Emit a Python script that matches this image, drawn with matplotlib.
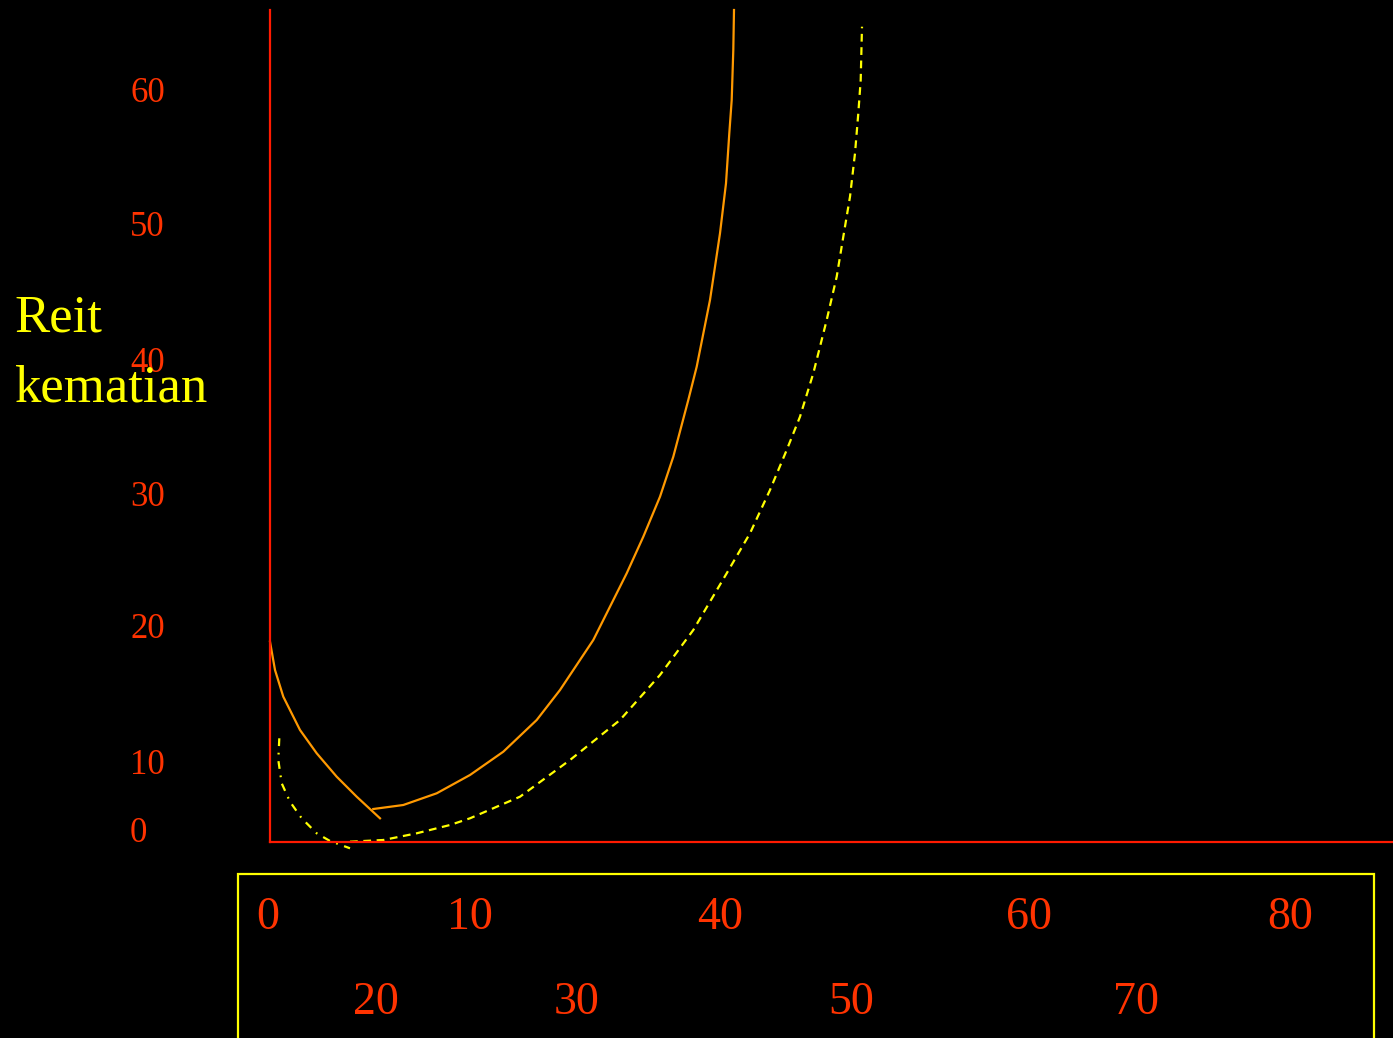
import matplotlib
matplotlib.use("Agg")
import matplotlib.pyplot as plt
from matplotlib.patches import Rectangle

W, H = 1393, 1038

# curves, in axis units (1 unit = 10 px from the axis origin)
infant_x = [0, 0.5, 1.33, 3.0, 4.67, 6.67, 8.67, 11.0]
infant_y = [20.03, 17.2, 14.53, 11.2, 8.87, 6.53, 4.53, 2.37]

adult_x = [10.33, 13.33, 16.67, 20.0, 23.33, 26.67, 29.0, 32.33, 35.67, 37.33, 39.0,
           40.33, 41.83, 42.67, 44.0, 45.0, 45.6, 45.93, 46.17, 46.33, 46.4]
adult_y = [3.3, 3.7, 4.87, 6.7, 9.03, 12.2, 15.2, 20.2, 26.87, 30.53, 34.53,
           38.53, 44.2, 47.53, 54.2, 60.87, 65.87, 70.87, 74.2, 79.2, 83.2]

dashed_x = [8.0, 11.33, 14.67, 18.0, 20.0, 25.0, 30.0, 35.0, 39.0, 42.33, 45.67, 48.0,
            50.0, 51.67, 53.0, 54.33, 55.67, 56.67, 57.33, 58.0, 58.5, 58.83, 59.07, 59.2]
dashed_y = [0.03, 0.2, 0.87, 1.7, 2.37, 4.53, 8.2, 12.2, 16.7, 21.2, 26.87, 30.87,
            35.2, 39.2, 42.53, 46.87, 52.2, 56.53, 60.53, 64.53, 68.87, 72.87, 76.2, 81.53]

dashdot_x = [0.93, 0.83, 1.17, 2.0, 3.17, 4.67, 6.0, 8.0]
dashdot_y = [10.37, 8.2, 5.87, 4.03, 2.37, 0.87, 0.1, -0.63]

y_labels = ["60", "50", "40", "30", "20", "10", "0"]
y_label_px = [91, 224, 360, 494, 627, 763, 830]

x_labels_top = ["0", "10", "40", "60", "80"]
x_top_px = [268, 470, 720, 1029, 1290]
x_labels_bot = ["20", "30", "50", "70"]
x_bot_px = [376, 577, 851, 1136]

red = "#ff1a00"
label_red = "#ff3300"
orange = "#ff9900"
yellow = "#ffff00"
serif = ["Liberation Serif", "DejaVu Serif"]

fig = plt.figure(figsize=(W / 100, H / 100), dpi=100, facecolor="black")
ax = fig.add_axes([270 / W, (H - 842) / H, (W - 270) / W, (842 - 10) / H])
ax.set_facecolor("black")
ax.set_xlim(0, (W - 270) / 10)
ax.set_ylim(0, (842 - 10) / 10)
for s in ["top", "right"]:
    ax.spines[s].set_visible(False)
for s in ["left", "bottom"]:
    ax.spines[s].set_color(red)
    ax.spines[s].set_linewidth(1.6)
ax.set_xticks([])
ax.set_yticks([])

ax.plot(infant_x, infant_y, color=orange, lw=1.6, clip_on=False)
ax.plot(adult_x, adult_y, color=orange, lw=1.6, clip_on=False)
ax.plot(dashed_x, dashed_y, color=yellow, lw=1.6, dashes=(3.5, 2.5), clip_on=False)
ax.plot(dashdot_x, dashdot_y, color=yellow, lw=1.6, dashes=(3.5, 3, 0.8, 3), clip_on=False)

for lab, py in zip(y_labels, y_label_px):
    fig.text(130 / W, 1 - (py + 3) / H, lab, color=label_red, fontsize=25,
             family=serif, ha="left", va="center")

for lab, px in zip(x_labels_top, x_top_px):
    fig.text(px / W, 1 - 918 / H, lab, color=label_red, fontsize=33,
             family=serif, ha="center", va="center")
for lab, px in zip(x_labels_bot, x_bot_px):
    fig.text(px / W, 1 - 1003 / H, lab, color=label_red, fontsize=33,
             family=serif, ha="center", va="center")

fig.patches.append(Rectangle((238 / W, -0.01), (1374 - 238) / W, 0.01 + (H - 874) / H,
                             transform=fig.transFigure, fill=False,
                             edgecolor=yellow, lw=1.6))

fig.text(14 / W, 1 - 332 / H, "Reit", color=yellow, fontsize=38, family=serif,
         ha="left", va="baseline")
fig.text(14 / W, 1 - 402 / H, "kematian", color=yellow, fontsize=38, family=serif,
         ha="left", va="baseline")

fig.savefig("out.png", dpi=100, facecolor="black")
